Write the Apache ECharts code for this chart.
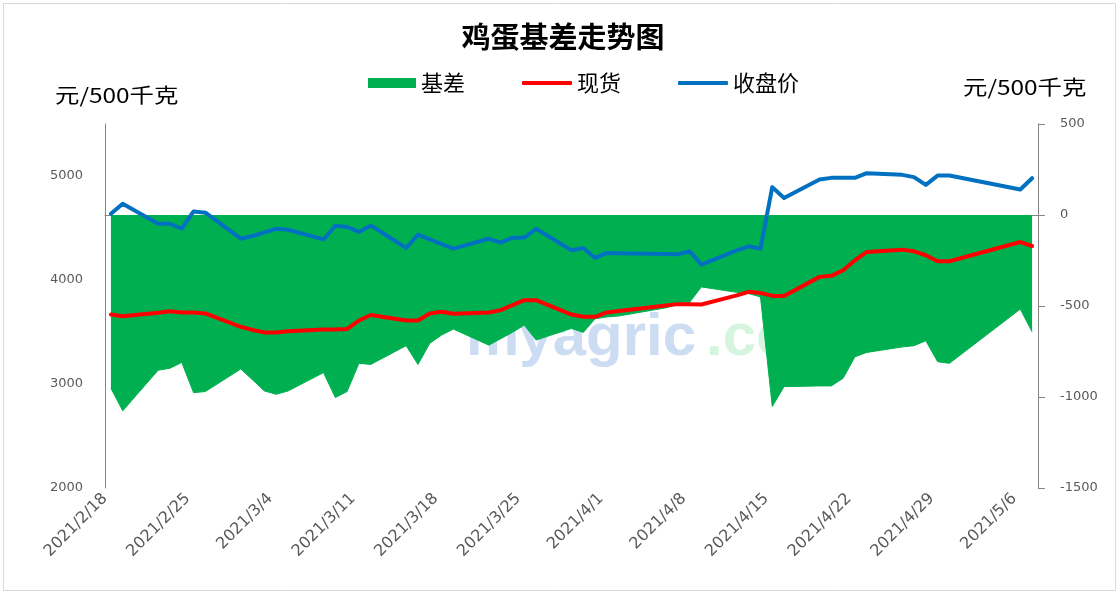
<!DOCTYPE html>
<html>
<head>
<meta charset="utf-8">
<script src="https://cdn.jsdelivr.net/npm/echarts@6/dist/echarts.min.js"></script>
<style>
html,body{margin:0;padding:0;background:#fff;}
#chart{width:1119px;height:594px;background:#fff;}
</style>
</head>
<body>
<div id="chart"></div>
<script>
// ---- data ----
const dates = [
  '2021-02-18','2021-02-19','2021-02-22','2021-02-23','2021-02-24','2021-02-25','2021-02-26',
  '2021-03-01','2021-03-02','2021-03-03','2021-03-04','2021-03-05','2021-03-08','2021-03-09','2021-03-10',
  '2021-03-11','2021-03-12','2021-03-15','2021-03-16','2021-03-17','2021-03-18','2021-03-19','2021-03-22',
  '2021-03-23','2021-03-24','2021-03-25','2021-03-26','2021-03-29','2021-03-30','2021-03-31',
  '2021-04-01','2021-04-02','2021-04-06','2021-04-07','2021-04-08','2021-04-09','2021-04-12','2021-04-13',
  '2021-04-14','2021-04-15','2021-04-16','2021-04-19','2021-04-20','2021-04-21','2021-04-22','2021-04-23',
  '2021-04-26','2021-04-27','2021-04-28','2021-04-29','2021-04-30','2021-05-06','2021-05-07'
];
const basis = [
  -952,-1076,-853,-842,-810,-976,-970,
  -846,-906,-967,-985,-967,-866,-1003,-970,
  -815,-821,-718,-821,-705,-660,-627,-715,
  -680,-645,-605,-687,-623,-645,-570,
  -560,-555,-510,-490,-480,-395,-425,-432,
  -450,-1052,-943,-939,-939,-897,-779,-755,
  -725,-718,-691,-806,-815,-517,-642
];
const spot = [
  3668,3652,3685,3700,3688,3688,3678,
  3550,3520,3496,3496,3508,3525,3525,3530,
  3610,3664,3611,3611,3678,3694,3675,3688,
  3710,3758,3806,3806,3668,3646,3646,
  3688,3701,3755,3768,3766,3765,3852,3886,
  3876,3847,3847,4030,4040,4094,4190,4270,
  4292,4276,4238,4180,4180,4365,4327
];
const closePrice = [
  4637,4733,4541,4541,4493,4659,4647,
  4397,4423,4458,4493,4483,4390,4522,4510,
  4462,4525,4308,4436,4391,4346,4301,4397,
  4359,4407,4407,4493,4285,4308,4212,
  4260,4258,4250,4247,4276,4148,4285,4324,
  4301,4893,4788,4966,4982,4982,4982,5027,
  5011,4989,4915,5004,5004,4870,4979
];
const seriesNames = ['基差','现货','收盘价'];
const leftTicks = [2000,3000,4000,5000];
const rightTicks = [-1500,-1000,-500,0,500];
const unitLabel = '元/500千克';
const titleText = '鸡蛋基差走势图';

// ---- helpers ----
const DAY = 86400000;
function toUTC(s){ const p = s.split('-').map(Number); return Date.UTC(p[0], p[1]-1, p[2]); }
const base = toUTC(dates[0]);
const dayIdx = dates.map(d => (toUTC(d) - base) / DAY);
// Excel date axis: each day's point sits in the middle of its day slot
const xs = dayIdx.map(d => d + 0.5);
const lastDay = dayIdx[dayIdx.length-1] + 1;
function pair(vals){ return vals.map((v,i) => [xs[i], v]); }
function fmtDate(v){
  if (Math.abs(v % 7) > 1e-9) return '';
  const d = new Date(base + v*DAY);
  return d.getUTCFullYear() + '/' + (d.getUTCMonth()+1) + '/' + d.getUTCDate();
}

const GREEN = '#00B050', RED = '#FF0000', BLUE = '#0070C0';
const AXIS = '#868686', LABEL = '#595959';
const CJK = '"Noto Sans CJK SC", "Microsoft YaHei", sans-serif';
const NUMF = '"DejaVu Sans", Verdana, sans-serif';
const WMF = '"Liberation Sans", Arial, sans-serif';

const chart = echarts.init(document.getElementById('chart'), null, {renderer:'canvas'});
chart.setOption({
  animation: false,
  // watermark (drawn under the series)
  title: [
    {text: 'myagric', left: 466, top: 308, padding: 0, z: 0, zlevel: 0, silent: true,
     textStyle: {fontSize: 60, fontWeight: 'bold', fontFamily: WMF, color: '#CCDCF2', lineHeight: 60}},
    {text: '.com', left: 706, top: 308, padding: 0, z: 0, zlevel: 0, silent: true,
     textStyle: {fontSize: 60, fontWeight: 'bold', fontFamily: WMF, color: '#D6F5DE', lineHeight: 60}}
  ],
  graphic: [
    {type:'rect', shape:{x:3.5,y:3.5,width:1112,height:587}, style:{fill:null, stroke:'#D9D9D9', lineWidth:1}, silent:true},
    {type:'text', x:563, y:37, silent:true, style:{text:titleText, font:'bold 29px ' + CJK, fill:'#000', textAlign:'center', textVerticalAlign:'middle'}},
    {type:'text', x:55, y:95, scaleX:1.22, silent:true, style:{x:0, y:0, text:unitLabel, font:'20px ' + CJK, fill:'#000', textAlign:'left', textVerticalAlign:'middle'}},
    {type:'text', x:963, y:87, scaleX:1.22, silent:true, style:{x:0, y:0, text:unitLabel, font:'20px ' + CJK, fill:'#000', textAlign:'left', textVerticalAlign:'middle'}}
  ],
  legend: [
    {
      data: [{name: seriesNames[0], icon: 'rect'}],
      left: 368, top: 72, padding: 0,
      itemWidth: 48, itemHeight: 10,
      textStyle: {fontSize: 22, color: '#000', fontFamily: CJK},
      selectedMode: false
    },
    {
      data: [{name: seriesNames[1], icon: 'roundRect'}, {name: seriesNames[2], icon: 'roundRect'}],
      left: 522, top: 72, padding: 0,
      itemWidth: 50, itemHeight: 4, itemGap: 57,
      textStyle: {fontSize: 22, color: '#000', fontFamily: CJK},
      selectedMode: false
    }
  ],
  grid: {left: 105, right: 81, top: 124, bottom: 106, containLabel: false},
  xAxis: {
    type: 'value', min: 0, max: lastDay, interval: 7,
    axisLine: {show: true, lineStyle: {color: AXIS, width: 1}},
    axisTick: {show: true, length: 5, lineStyle: {color: AXIS}},
    splitLine: {show: false},
    axisLabel: {rotate: 45, formatter: fmtDate, color: LABEL, fontSize: 16, fontFamily: NUMF, margin: 8, showMaxLabel: false}
  },
  yAxis: [
    {
      type: 'value', position: 'left',
      min: leftTicks[0], max: leftTicks[leftTicks.length-1] + 500, interval: leftTicks[1]-leftTicks[0],
      axisLine: {show: true, lineStyle: {color: AXIS, width: 1}},
      axisTick: {show: false},
      splitLine: {show: false},
      axisLabel: {color: LABEL, fontSize: 13, fontFamily: NUMF, margin: 22,
        formatter: v => leftTicks.indexOf(v) >= 0 ? String(v) : ''}
    },
    {
      type: 'value', position: 'right',
      min: rightTicks[0], max: rightTicks[rightTicks.length-1], interval: rightTicks[1]-rightTicks[0],
      axisLine: {show: true, lineStyle: {color: AXIS, width: 1}},
      axisTick: {show: true, length: 7, lineStyle: {color: AXIS}},
      splitLine: {show: false},
      axisLabel: {color: LABEL, fontSize: 13, fontFamily: NUMF, margin: 22,
        formatter: v => String(v)}
    }
  ],
  series: [
    {
      name: seriesNames[0], type: 'line', yAxisIndex: 1, data: pair(basis),
      symbol: 'none', zlevel: 1, z: 5,
      itemStyle: {color: GREEN},
      lineStyle: {color: GREEN, width: 1},
      areaStyle: {color: GREEN, opacity: 1, origin: 0}
    },
    {
      name: seriesNames[1], type: 'line', yAxisIndex: 0, data: pair(spot),
      symbol: 'none', zlevel: 1, z: 6,
      itemStyle: {color: RED},
      lineStyle: {color: RED, width: 4, cap: 'round', join: 'round'}
    },
    {
      name: seriesNames[2], type: 'line', yAxisIndex: 0, data: pair(closePrice),
      symbol: 'none', zlevel: 1, z: 7,
      itemStyle: {color: BLUE},
      lineStyle: {color: BLUE, width: 4, cap: 'round', join: 'round'}
    }
  ]
});
</script>
</body>
</html>
